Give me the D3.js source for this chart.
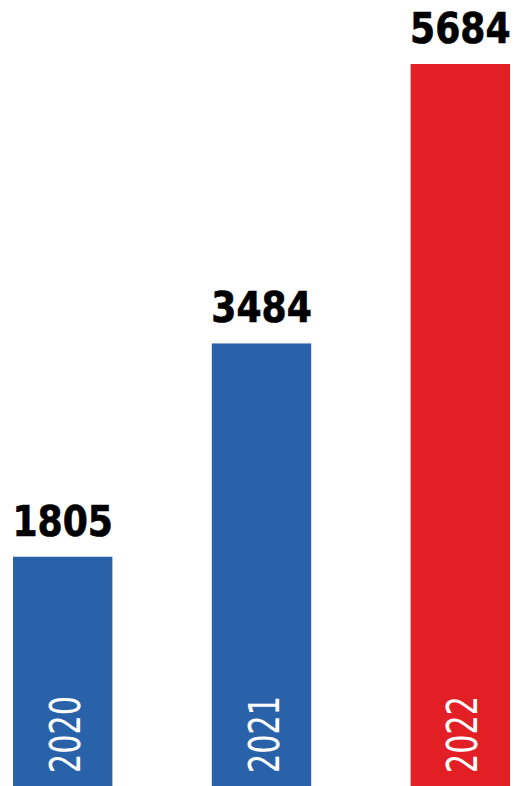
<!DOCTYPE html>
<html>
<head>
<meta charset="utf-8">
<script src="https://cdn.jsdelivr.net/npm/d3@7"></script>
<style>
  body { margin: 0; background: #fff; }
</style>
</head>
<body>
<div id="chart"></div>
<script>
var years = ['2020', '2021', '2022'];
var counts = [1805, 3484, 5684];
var colors = ['#2962a8', '#2962a8', '#e31f26'];

var chart_width = 518;
var chart_height = 786;

var data = years.map(function(y, i) {
  return {year: y, num: counts[i], color: colors[i]};
});

var svg = d3.select('#chart')
  .append('svg')
  .attr('width', chart_width)
  .attr('height', chart_height);

// scales
var x_scale = d3.scaleBand()
  .domain(years)
  .range([13, 510])
  .paddingInner(0.5)
  .paddingOuter(0);

var y_scale = d3.scaleLinear()
  .domain([0, d3.max(counts)])
  .range([chart_height, 64]);

// bars
svg.selectAll('rect')
  .data(data)
  .enter()
  .append('rect')
  .attr('x', function(d) { return x_scale(d.year); })
  .attr('y', function(d) { return y_scale(d.num); })
  .attr('width', x_scale.bandwidth())
  .attr('height', function(d) { return chart_height - y_scale(d.num); })
  .attr('fill', function(d) { return d.color; });

// value labels (narrowed a bit with a scale so they fit over the bars)
svg.selectAll('.val')
  .data(data)
  .enter()
  .append('text')
  .attr('class', 'val')
  .text(function(d) { return d.num; })
  .attr('transform', function(d) {
    var cx = x_scale(d.year) + x_scale.bandwidth() / 2;
    return 'translate(' + cx + ',' + (y_scale(d.num) - 21) + ') scale(0.86,1)';
  })
  .attr('text-anchor', 'middle')
  .attr('font-family', 'DejaVu Sans')
  .attr('font-weight', 'bold')
  .attr('font-size', 42)
  .attr('fill', '#000')
  .attr('stroke', '#000')
  .attr('stroke-width', 0.7);

// year labels inside the bars
svg.selectAll('.yr')
  .data(data)
  .enter()
  .append('text')
  .attr('class', 'yr')
  .text(function(d) { return d.year; })
  .attr('transform', function(d) {
    var cx = x_scale(d.year) + x_scale.bandwidth() / 2 + 17;
    return 'translate(' + cx + ',' + 773 + ') rotate(-90) scale(0.72,1)';
  })
  .attr('font-family', 'DejaVu Sans')
  .attr('font-size', 42)
  .attr('fill', '#fff');
</script>
</body>
</html>
